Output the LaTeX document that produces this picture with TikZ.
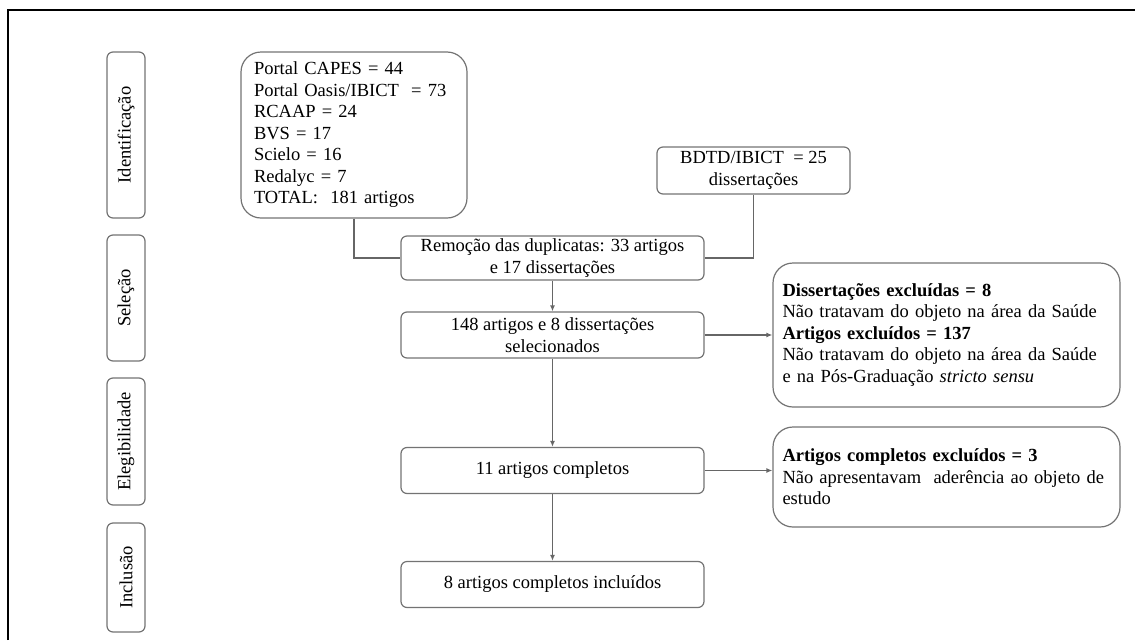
\documentclass[tikz,border=0pt]{standalone}
\usepackage{fontspec}
\setmainfont{Liberation Serif}
\usetikzlibrary{arrows.meta}
\tikzset{phase/.style={draw=black!55, line width=1.2pt, rounded corners=6pt, rotate=90, minimum height=38pt, inner sep=0pt}}
\tikzset{stagebox/.style={draw=black!55, line width=1.2pt, rounded corners=6pt, align=center, inner sep=0pt, minimum width=303pt, minimum height=46pt}}
\tikzset{bigbox/.style={draw=black!55, line width=1.2pt, rounded corners=20pt, align=left, inner sep=0pt}}
\tikzset{link/.style={draw=black!60, line width=1.2pt}}
\tikzset{flow/.style={link, -{Latex[length=6pt, width=5pt]}}}
\newcommand{\fullline}[1]{\makebox[328pt][s]{#1}}

\begin{document}
\begin{tikzpicture}[x=1pt, y=-1pt, font=\fontsize{18.5}{21.5}\selectfont]
\useasboundingbox (0,0) rectangle (1135,643);

% frame
\draw[line width=2.5pt] (8,640) -- (8,10) -- (1135,10);

% phases
\node[phase, minimum width=166pt] (ident) at (126,135) {Identificação};
\node[phase, minimum width=126pt] (selec) at (126,298) {Seleção};
\node[phase, minimum width=127pt] (eleg) at (126,441.5) {Elegibilidade};
\node[phase, minimum width=109pt] (inclu) at (126,577.5) {Inclusão};

% sources
\node[bigbox, minimum width=226pt, minimum height=166pt, text width=200pt] (src) at (354,135)
  {Portal CAPES = 44\\Portal Oasis/IBICT \ = 73\\RCAAP = 24\\BVS = 17\\Scielo = 16\\Redalyc = 7\\TOTAL: \ 181 artigos};
\node[stagebox, minimum width=193pt, minimum height=47pt] (bdtd) at (753.5,170.5) {BDTD/IBICT \ = 25\\dissertações};

% main flow
\node[stagebox, minimum height=44pt] (rem) at (552.5,258) {Remoção das duplicatas: 33 artigos\\e 17 dissertações};
\node[stagebox] (sel) at (552.5,335) {148 artigos e 8 dissertações\\selecionados};
\node[stagebox] (full) at (552.5,470.5) {11 artigos completos};
\node[stagebox] (incl) at (552.5,584.5) {8 artigos completos incluídos};

% exclusions
\node[bigbox, minimum width=347pt, minimum height=144pt, text width=328pt] (excl1) at (946.5,335)
  {\textbf{Dissertações excluídas = 8}\\\fullline{Não tratavam do objeto na área da Saúde}\\\textbf{Artigos excluídos = 137}\\\fullline{Não tratavam do objeto na área da Saúde}\\e na Pós-Graduação \textit{stricto sensu}};
\node[bigbox, minimum width=347pt, minimum height=100pt, text width=328pt] (excl2) at (946.5,477)
  {\textbf{Artigos completos excluídos = 3}\\\fullline{Não apresentavam \ aderência ao objeto de}\\estudo};

% connectors
\draw[link] (src.south) |- (rem.west);
\draw[link] (bdtd.south) |- (rem.east);
\draw[flow] (rem) -- (sel);
\draw[flow] (sel) -- (full);
\draw[flow] (full) -- (incl);
\draw[flow] (sel.east) -- (excl1.west);
\draw[flow] (full.east) -- (full.east -| excl2.west);

\end{tikzpicture}
\end{document}
